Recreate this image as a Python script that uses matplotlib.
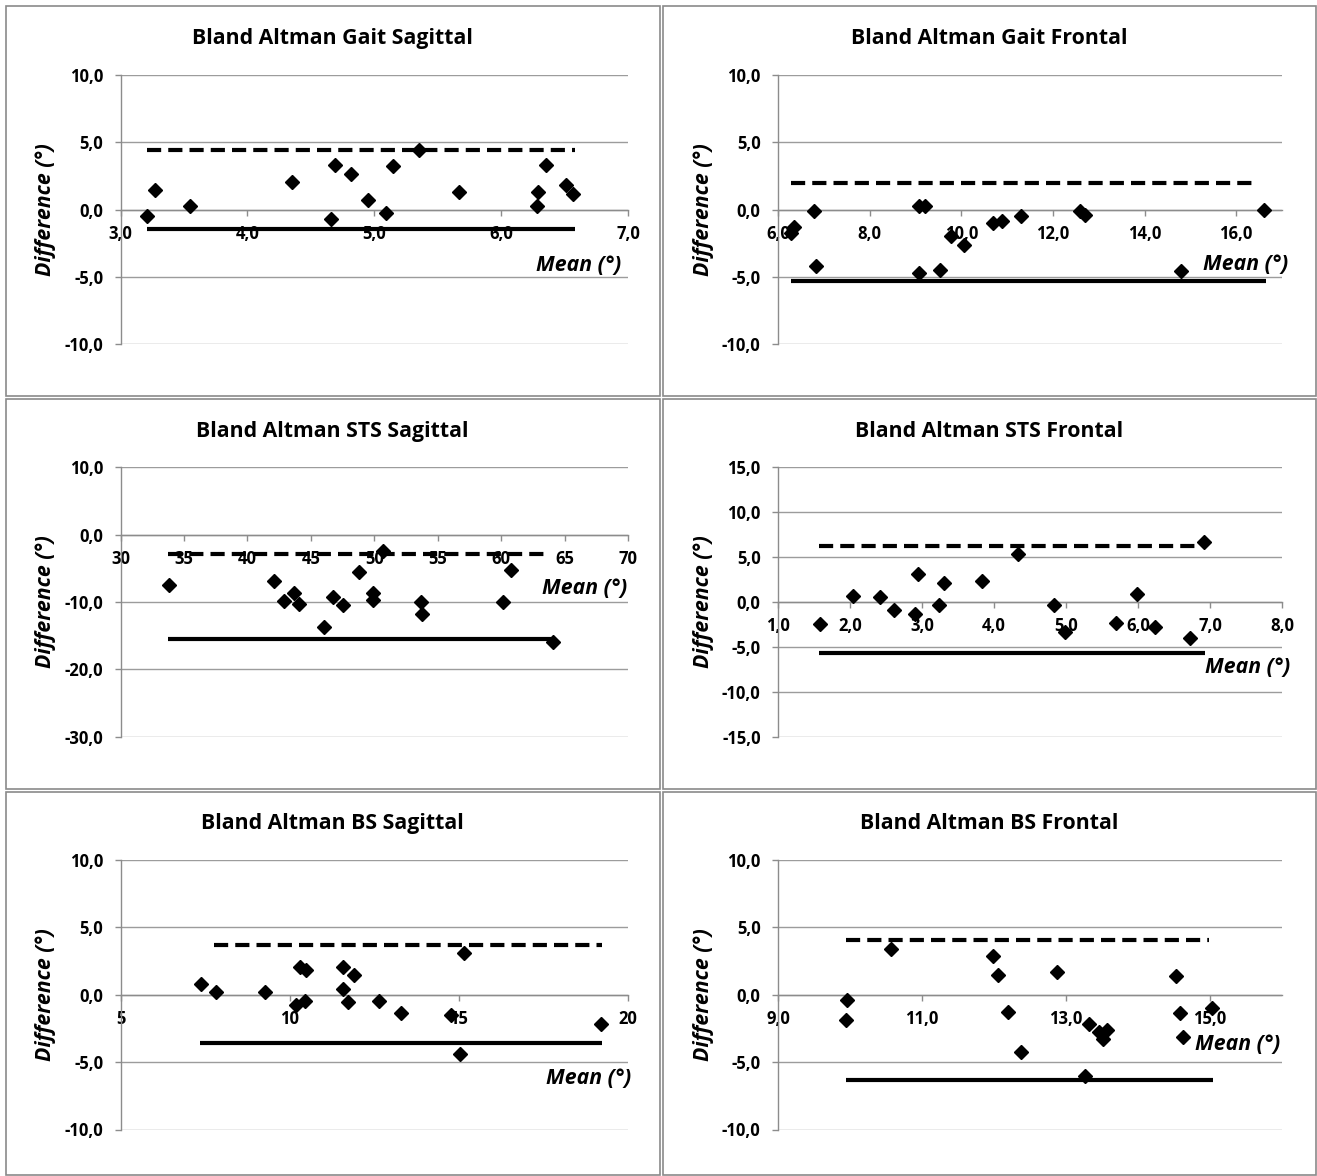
import matplotlib
matplotlib.use('Agg')
import matplotlib.pyplot as plt
from matplotlib.ticker import FixedLocator, FuncFormatter
from matplotlib.patches import Rectangle

plt.rcParams['font.family'] = ['Open Sans', 'DejaVu Sans']

# ---------------- data ----------------
gait_sag_mean = [3.21, 3.27, 3.55, 4.35, 4.66, 4.69, 4.82, 4.95, 5.09, 5.15, 5.35, 5.67, 6.28, 6.29, 6.35, 6.51, 6.57]
gait_sag_diff = [-0.45, 1.46, 0.25, 2.03, -0.69, 3.32, 2.67, 0.74, -0.25, 3.24, 4.43, 1.34, 0.25, 1.34, 3.29, 1.83, 1.14]
gait_sag_upper = 4.46
gait_sag_lower = -1.44
gait_sag_upper_x = [3.21, 6.58]
gait_sag_lower_x = [3.21, 6.58]

gait_fro_mean = [6.28, 6.34, 6.79, 6.83, 9.07, 9.21, 9.07, 9.54, 9.77, 10.06, 10.69, 10.89, 11.31, 12.60, 12.71, 14.79, 16.61]
gait_fro_diff = [-1.73, -1.31, -0.07, -4.21, 0.25, 0.25, -4.71, -4.51, -1.93, -2.60, -0.99, -0.82, -0.50, -0.07, -0.42, -4.54, -0.05]
gait_fro_upper = 1.98
gait_fro_lower = -5.28
gait_fro_upper_x = [6.28, 16.46]
gait_fro_lower_x = [6.28, 16.65]

sts_sag_mean = [33.81, 42.12, 42.88, 43.69, 44.08, 46.05, 46.77, 47.50, 48.79, 49.92, 49.92, 50.67, 53.70, 53.77, 60.15, 60.76, 64.05]
sts_sag_diff = [-7.48, -6.93, -9.80, -8.71, -10.35, -13.71, -9.21, -10.50, -5.59, -8.66, -9.70, -2.48, -10.05, -11.73, -10.05, -5.20, -15.94]
sts_sag_upper = -2.92
sts_sag_lower = -15.5
sts_sag_upper_x = [33.76, 63.58]
sts_sag_lower_x = [33.76, 63.94]

sts_fro_mean = [1.59, 2.04, 2.42, 2.61, 2.90, 2.95, 3.24, 3.30, 3.83, 4.34, 4.83, 4.98, 5.70, 5.98, 6.24, 6.72, 6.91]
sts_fro_diff = [-2.48, 0.70, 0.52, -0.89, -1.37, 3.15, -0.37, 2.07, 2.33, 5.30, -0.30, -3.37, -2.33, 0.93, -2.81, -4.07, 6.67]
sts_fro_upper = 6.19
sts_fro_lower = -5.74
sts_fro_upper_x = [1.57, 6.81]
sts_fro_lower_x = [1.57, 6.93]

bs_sag_mean = [7.38, 7.81, 9.26, 10.19, 10.32, 10.47, 10.46, 11.57, 11.59, 11.72, 11.91, 12.63, 13.29, 14.76, 15.03, 15.16, 19.20]
bs_sag_diff = [0.77, 0.17, 0.22, -0.74, 2.03, 1.81, -0.50, 2.03, 0.42, -0.54, 1.44, -0.45, -1.34, -1.53, -4.36, 3.09, -2.15]
bs_sag_upper = 3.66
bs_sag_lower = -3.59
bs_sag_upper_x = [7.76, 19.24]
bs_sag_lower_x = [7.36, 19.24]

bs_fro_mean = [9.96, 9.94, 10.57, 11.99, 12.06, 12.19, 12.37, 12.87, 13.26, 13.32, 13.46, 13.52, 13.57, 14.53, 14.58, 14.63, 15.03]
bs_fro_diff = [-0.37, -1.86, 3.42, 2.90, 1.44, -1.26, -4.26, 1.71, -6.02, -2.15, -2.80, -3.29, -2.60, 1.41, -1.36, -3.14, -0.99]
bs_fro_upper = 4.08
bs_fro_lower = -6.31
bs_fro_upper_x = [9.94, 14.98]
bs_fro_lower_x = [9.94, 15.04]

titles = ['Bland Altman Gait Sagittal', 'Bland Altman Gait Frontal',
          'Bland Altman STS Sagittal', 'Bland Altman STS Frontal',
          'Bland Altman BS Sagittal', 'Bland Altman BS Frontal']
x_ticks = [[3, 4, 5, 6, 7], [6, 8, 10, 12, 14, 16],
           [30, 35, 40, 45, 50, 55, 60, 65, 70], [1, 2, 3, 4, 5, 6, 7, 8],
           [5, 10, 15, 20], [9, 11, 13, 15]]
x_limits = [(3, 7), (6, 17), (30, 70), (1, 8), (5, 20), (9, 16)]
y_ticks = [[-10, -5, 0, 5, 10], [-10, -5, 0, 5, 10],
           [-30, -20, -10, 0, 10], [-15, -10, -5, 0, 5, 10, 15],
           [-10, -5, 0, 5, 10], [-10, -5, 0, 5, 10]]
x_decimals = [1, 1, 0, 1, 0, 1]
y_label = 'Difference (°)'
x_label = 'Mean (°)'

panels = [
    (gait_sag_mean, gait_sag_diff, gait_sag_upper, gait_sag_lower, gait_sag_upper_x, gait_sag_lower_x),
    (gait_fro_mean, gait_fro_diff, gait_fro_upper, gait_fro_lower, gait_fro_upper_x, gait_fro_lower_x),
    (sts_sag_mean, sts_sag_diff, sts_sag_upper, sts_sag_lower, sts_sag_upper_x, sts_sag_lower_x),
    (sts_fro_mean, sts_fro_diff, sts_fro_upper, sts_fro_lower, sts_fro_upper_x, sts_fro_lower_x),
    (bs_sag_mean, bs_sag_diff, bs_sag_upper, bs_sag_lower, bs_sag_upper_x, bs_sag_lower_x),
    (bs_fro_mean, bs_fro_diff, bs_fro_upper, bs_fro_lower, bs_fro_upper_x, bs_fro_lower_x),
]

# ---------------- layout (pixels) ----------------
W, H = 1317, 1176
col_x = [(120.5, 628), (778, 1282)]
row_y = [(75, 344.3), (467.3, 736.5), (860, 1129.5)]
title_y = [38.5, 431.5, 823.5]
box_cols = [(6, 659.5), (662.5, 1315.5)]
box_rows = [(6, 396.5), (399, 788.5), (791.5, 1174.5)]
ylab_x = [46, 704]
mean_pos = [(0.986, 0.294), (1.012, 0.297), (0.998, 0.55),
            (1.016, 0.257), (1.006, 0.19), (0.996, 0.314)]

GRID = '#9c9c9c'
AXC = '#8c8c8c'
TICK_FS = 12
LABEL_FS = 15.3
TITLE_FS = 15.3

fig = plt.figure(figsize=(W / 100, H / 100), dpi=100)
fig.patch.set_facecolor('white')

# panel border boxes
for r in range(3):
    for c in range(2):
        x0, x1 = box_cols[c]
        y0, y1 = box_rows[r]
        fig.patches.append(Rectangle((x0 / W, 1 - y1 / H), (x1 - x0) / W, (y1 - y0) / H,
                                     transform=fig.transFigure, fill=False,
                                     edgecolor='#8a8a8a', linewidth=1.2))


def fmt_factory(dec):
    def f(v, pos):
        return (f'{v:.{dec}f}').replace('.', ',')
    return f


for i, (mx, dy, up, lo, upx, lox) in enumerate(panels):
    r, c = divmod(i, 2)
    x0, x1 = col_x[c]
    y0, y1 = row_y[r]
    ax = fig.add_axes([x0 / W, 1 - y1 / H, (x1 - x0) / W, (y1 - y0) / H])
    ax.set_xlim(*x_limits[i])
    yt = y_ticks[i]
    ax.set_ylim(yt[0], yt[-1])
    ax.yaxis.set_major_locator(FixedLocator(yt))
    ax.xaxis.set_major_locator(FixedLocator(x_ticks[i]))
    ax.yaxis.set_major_formatter(FuncFormatter(fmt_factory(1)))
    ax.xaxis.set_major_formatter(FuncFormatter(fmt_factory(x_decimals[i])))
    ax.grid(axis='y', color=GRID, linewidth=1.0)
    ax.set_axisbelow(True)
    for s in ['top', 'right']:
        ax.spines[s].set_visible(False)
    ax.spines['left'].set_color(AXC)
    ax.spines['left'].set_linewidth(1.0)
    ax.spines['bottom'].set_position(('data', 0))
    ax.spines['bottom'].set_color(AXC)
    ax.spines['bottom'].set_linewidth(1.0)
    ax.tick_params(axis='y', length=4, width=1, color=AXC, pad=8.5, labelsize=TICK_FS)
    ax.tick_params(axis='x', length=4, width=1, color=AXC, pad=7, labelsize=TICK_FS)
    for lab in ax.get_xticklabels() + ax.get_yticklabels():
        lab.set_fontweight('bold')

    ax.plot(upx, [up, up], color='black', linewidth=3.0,
            linestyle=(0, (3.4, 1.7)), dash_capstyle='butt', zorder=3, clip_on=False)
    ax.plot(lox, [lo, lo], color='black', linewidth=3.0, solid_capstyle='butt',
            zorder=3, clip_on=False)
    ax.plot(mx, dy, linestyle='none', marker='D', markersize=7.4,
            color='black', zorder=4, clip_on=False)

    mpx, mpy = mean_pos[i]
    ax.text(mpx, mpy, x_label, transform=ax.transAxes, ha='right', va='center',
            fontsize=LABEL_FS, fontweight='bold', fontstyle='italic')

    cx = (box_cols[c][0] + box_cols[c][1]) / 2
    fig.text(cx / W, 1 - title_y[r] / H, titles[i], ha='center', va='center',
             fontsize=TITLE_FS, fontweight='bold')
    fig.text(ylab_x[c] / W, 1 - ((y0 + y1) / 2) / H, y_label, rotation=90,
             ha='center', va='center', fontsize=LABEL_FS, fontweight='bold',
             fontstyle='italic')

fig.savefig('out.png', dpi=100, facecolor='white')
